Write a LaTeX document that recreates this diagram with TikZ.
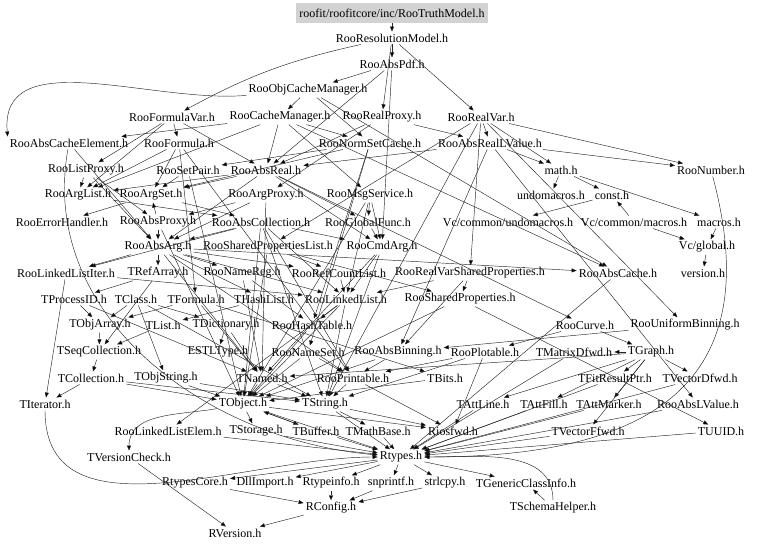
\documentclass[tikz,border=0pt]{standalone}
\usepackage{fontspec}
\setmainfont{Liberation Serif}
\usetikzlibrary{arrows.meta}

\begin{document}
\begin{tikzpicture}[x=1pt, y=-1pt,
    hdr/.style={font=\fontsize{12}{14}\selectfont, inner sep=2pt},
    top/.style={hdr, fill=gray!35, inner xsep=3pt, minimum height=20pt},
    dep/.style={draw=black!85, line width=0.45pt, -{Triangle[length=5pt,width=4pt]}}]
    \useasboundingbox (0,0) rectangle (768,548);
    % FILE
    \node[top] (truth) at (392,13) {roofit/roofitcore/inc/RooTruthModel.h};
    \node[hdr] (resmod) at (392,38) {RooResolutionModel.h};
    \node[hdr] (abspdf) at (392,64) {RooAbsPdf.h};
    \node[hdr] (objcache) at (308,90) {RooObjCacheManager.h};
    \node[hdr] (formvar) at (172,117) {RooFormulaVar.h};
    \node[hdr] (cachemgr) at (280,117) {RooCacheManager.h};
    \node[hdr] (realproxy) at (382,117) {RooRealProxy.h};
    \node[hdr] (realvar) at (481,117) {RooRealVar.h};
    \node[hdr] (cacheelem) at (69,143) {RooAbsCacheElement.h};
    \node[hdr] (formula) at (179,143) {RooFormula.h};
    \node[hdr] (normset) at (370,143) {RooNormSetCache.h};
    \node[hdr] (reallval) at (490,143) {RooAbsRealLValue.h};
    \node[hdr] (listproxy) at (86,170) {RooListProxy.h};
    \node[hdr] (setpair) at (188,170) {RooSetPair.h};
    \node[hdr] (absreal) at (266,170) {RooAbsReal.h};
    \node[hdr] (mathh) at (561,170) {math.h};
    \node[hdr] (number) at (711,170) {RooNumber.h};
    \node[hdr] (arglist) at (78,195) {RooArgList.h};
    \node[hdr] (argset) at (151,195) {RooArgSet.h};
    \node[hdr] (argproxy) at (266,195) {RooArgProxy.h};
    \node[hdr] (msgsvc) at (370,195) {RooMsgService.h};
    \node[hdr] (undom) at (551,195) {undomacros.h};
    \node[hdr] (consth) at (612,195) {const.h};
    \node[hdr] (errhand) at (62,222) {RooErrorHandler.h};
    \node[hdr] (absproxy) at (158,222) {RooAbsProxy.h};
    \node[hdr] (abscoll) at (261,222) {RooAbsCollection.h};
    \node[hdr] (globfunc) at (368,222) {RooGlobalFunc.h};
    \node[hdr] (vcundom) at (508,222) {Vc/common/undomacros.h};
    \node[hdr] (vcmacros) at (634,222) {Vc/common/macros.h};
    \node[hdr] (macrosh) at (719,222) {macros.h};
    \node[hdr] (absarg) at (158,247) {RooAbsArg.h};
    \node[hdr] (shplist) at (268,247) {RooSharedPropertiesList.h};
    \node[hdr] (cmdarg) at (382,247) {RooCmdArg.h};
    \node[hdr] (vcglobal) at (707,247) {Vc/global.h};
    \node[hdr] (llistiter) at (66,273) {RooLinkedListIter.h};
    \node[hdr] (trefarr) at (158,273) {TRefArray.h};
    \node[hdr] (namereg) at (242,273) {RooNameReg.h};
    \node[hdr] (refcount) at (339,273) {RooRefCountList.h};
    \node[hdr] (rvshprop) at (470,273) {RooRealVarSharedProperties.h};
    \node[hdr] (abscache) at (618,273) {RooAbsCache.h};
    \node[hdr] (versionh) at (703,273) {version.h};
    \node[hdr] (tprocid) at (74,299) {TProcessID.h};
    \node[hdr] (tclass) at (136,299) {TClass.h};
    \node[hdr] (tformula) at (196,299) {TFormula.h};
    \node[hdr] (thashlist) at (264,299) {THashList.h};
    \node[hdr] (linklist) at (346,299) {RooLinkedList.h};
    \node[hdr] (shprop) at (460,299) {RooSharedProperties.h};
    \node[hdr] (tobjarr) at (100,325) {TObjArray.h};
    \node[hdr] (tlist) at (163,325) {TList.h};
    \node[hdr] (tdict) at (226,325) {TDictionary.h};
    \node[hdr] (hashtab) at (312,325) {RooHashTable.h};
    \node[hdr] (curve) at (585,325) {RooCurve.h};
    \node[hdr] (unibin) at (685,325) {RooUniformBinning.h};
    \node[hdr] (tseqcoll) at (99,352) {TSeqCollection.h};
    \node[hdr] (estl) at (218,352) {ESTLType.h};
    \node[hdr] (nameset) at (308,352) {RooNameSet.h};
    \node[hdr] (absbin) at (398,352) {RooAbsBinning.h};
    \node[hdr] (plotable) at (485,352) {RooPlotable.h};
    \node[hdr] (tmatd) at (574,352) {TMatrixDfwd.h};
    \node[hdr] (tgraph) at (651,352) {TGraph.h};
    \node[hdr] (tcoll) at (91,378) {TCollection.h};
    \node[hdr] (tobjstr) at (166,378) {TObjString.h};
    \node[hdr] (tnamed) at (262,378) {TNamed.h};
    \node[hdr] (printable) at (353,378) {RooPrintable.h};
    \node[hdr] (tbits) at (445,378) {TBits.h};
    \node[hdr] (fitres) at (615,378) {TFitResultPtr.h};
    \node[hdr] (tvecd) at (700,378) {TVectorDfwd.h};
    \node[hdr] (titer) at (45,404) {TIterator.h};
    \node[hdr] (tobject) at (243,404) {TObject.h};
    \node[hdr] (tstring) at (325,404) {TString.h};
    \node[hdr] (tattline) at (483,404) {TAttLine.h};
    \node[hdr] (tattfill) at (544,404) {TAttFill.h};
    \node[hdr] (tattmark) at (609,404) {TAttMarker.h};
    \node[hdr] (abslval) at (698,404) {RooAbsLValue.h};
    \node[hdr] (llelem) at (168,431) {RooLinkedListElem.h};
    \node[hdr] (tstorage) at (256,431) {TStorage.h};
    \node[hdr] (tbuffer) at (316,431) {TBuffer.h};
    \node[hdr] (tmathbase) at (378,431) {TMathBase.h};
    \node[hdr] (riosfwd) at (453,431) {Riosfwd.h};
    \node[hdr] (tvecf) at (588,431) {TVectorFfwd.h};
    \node[hdr] (tuuid) at (721,431) {TUUID.h};
    \node[hdr] (tvcheck) at (129,457) {TVersionCheck.h};
    \node[hdr] (rtypes) at (401,457) {Rtypes.h};
    \node[hdr] (rtypescore) at (195,483) {RtypesCore.h};
    \node[hdr] (dllimport) at (265,483) {DllImport.h};
    \node[hdr] (rtypeinfo) at (331,483) {Rtypeinfo.h};
    \node[hdr] (snprintf) at (391,483) {snprintf.h};
    \node[hdr] (strlcpy) at (445,483) {strlcpy.h};
    \node[hdr] (tgenclass) at (526,483) {TGenericClassInfo.h};
    \node[hdr] (rconfig) at (331,508) {RConfig.h};
    \node[hdr] (tschema) at (553,508) {TSchemaHelper.h};
    \node[hdr] (rversion) at (235,533) {RVersion.h};
    % INCLUDE
    \path[dep] (truth) edge (resmod);
    \path[dep] (resmod) edge (abspdf) edge[bend right=8] (formvar) edge (realproxy) edge (realvar);
    \path[dep] (abspdf) edge (objcache) edge (absreal) edge (cmdarg);
    \path[dep] (objcache) edge[out=185,in=95] (cacheelem.north west) edge (cachemgr) edge (normset) edge (abscache);
    \path[dep] (cachemgr) edge (normset) edge (msgsvc) edge (absreal) edge (arglist) edge (abscache) edge (cacheelem);
    \path[dep] (formvar) edge (formula) edge (absreal) edge (listproxy) edge (arglist);
    \path[dep] (formula) edge (arglist) edge (argset) edge (tformula) edge (printable);
    \path[dep] (realproxy) edge (absreal) edge (argproxy) edge (reallval);
    \path[dep] (realvar) edge (reallval) edge (mathh) edge (number) edge (unibin) edge (shplist) edge (rvshprop) edge (tstring);
    \path[dep] (reallval) edge (mathh) edge (absreal) edge (number) edge (abslval) edge (absbin);
    \path[dep] (cacheelem) edge (absarg) edge[out=-100,in=175] (rtypes);
    \path[dep] (listproxy) edge (arglist) edge (absproxy) edge (absarg);
    \path[dep] (setpair) edge (argset) edge (tobject);
    \path[dep] (absreal) edge (absarg) edge (cmdarg) edge (curve) edge (argset) edge (arglist) edge (globfunc);
    \path[dep] (normset) edge (setpair) edge (nameset) edge (hashtab) edge (argset);
    \path[dep] (mathh) edge (undom) edge (consth) edge (macrosh);
    \path[dep] (number) edge[out=-75,in=0,looseness=1.4] (rtypes);
    \path[dep] (arglist) edge (abscoll);
    \path[dep] (argset) edge (abscoll) edge (errhand);
    \path[dep] (argproxy) edge (absproxy) edge (absarg) edge (tnamed);
    \path[dep] (msgsvc) edge (globfunc) edge (cmdarg) edge (tobject) edge (linklist);
    \path[dep] (consth) edge (vcundom);
    \path[dep] (vcmacros) edge (consth) edge (vcglobal);
    \path[dep] (macrosh) edge (vcglobal);
    \path[dep] (vcglobal) edge (versionh);
    \path[dep] (absproxy) edge (absarg) edge (argset) edge (tobject);
    \path[dep] (abscoll) edge (absarg) edge (tobject) edge (tstring) edge (printable) edge (linklist) edge (cmdarg) edge (llistiter);
    \path[dep] (globfunc) edge (cmdarg);
    \path[dep] (absarg) edge (tnamed) edge (thashlist) edge (trefarr) edge (printable) edge (refcount) edge (abscache) edge (llistiter) edge (namereg) edge (linklist);
    \path[dep] (shplist) edge (tobject) edge (refcount) edge (shprop);
    \path[dep] (cmdarg) edge (tnamed) edge (tstring) edge (linklist);
    \path[dep] (llistiter) edge (titer) edge (linklist);
    \path[dep] (trefarr) edge (tseqcoll) edge (tprocid);
    \path[dep] (namereg) edge (tnamed) edge (hashtab);
    \path[dep] (refcount) edge (linklist);
    \path[dep] (rvshprop) edge (shprop) edge (absbin) edge (linklist);
    \path[dep] (abscache) edge (rtypes);
    \path[dep] (tprocid) edge (tnamed) edge (tobjarr);
    \path[dep] (tclass) edge (tdict) edge (tstring) edge (tobjarr) edge (tobjstr);
    \path[dep] (tformula) edge (tnamed) edge (tbits) edge (tobjarr);
    \path[dep] (thashlist) edge (tlist);
    \path[dep] (linklist) edge (tobject) edge (llelem) edge (hashtab) edge (tstring);
    \path[dep] (shprop) edge (tobject) edge (tuuid);
    \path[dep] (tobjarr) edge (tseqcoll);
    \path[dep] (tlist) edge (tseqcoll);
    \path[dep] (tdict) edge (tnamed) edge (estl);
    \path[dep] (hashtab) edge (tobject);
    \path[dep] (curve) edge (tgraph) edge (plotable);
    \path[dep] (unibin) edge (absbin);
    \path[dep] (tseqcoll) edge (tcoll);
    \path[dep] (nameset) edge (tobject) edge (printable);
    \path[dep] (absbin) edge (tobject) edge (printable);
    \path[dep] (plotable) edge (tstring) edge (printable) edge (riosfwd);
    \path[dep] (tmatd) edge (rtypes);
    \path[dep] (tgraph) edge (tnamed) edge (tattline) edge (tattfill) edge (tattmark) edge (tvecf) edge (tvecd) edge (tmatd) edge (fitres);
    \path[dep] (tcoll) edge (tobject) edge (titer) edge (tstring);
    \path[dep] (tobjstr) edge (tobject) edge (tstring);
    \path[dep] (tnamed) edge (tobject) edge (tstring);
    \path[dep] (printable) edge (riosfwd) edge (tstring);
    \path[dep] (tbits) edge (tobject);
    \path[dep] (fitres) edge (rtypes);
    \path[dep] (tvecd) edge (rtypes);
    \path[dep] (titer) edge[out=-90,in=180] (rtypes);
    \path[dep] (tobject) edge (tstorage) edge (tbuffer) edge[out=190,in=90] (tvcheck) edge (riosfwd) edge (rtypes);
    \path[dep] (tstring) edge (rtypes) edge (tmathbase) edge (riosfwd);
    \path[dep] (tattline) edge (rtypes);
    \path[dep] (tattfill) edge (rtypes);
    \path[dep] (tattmark) edge (rtypes);
    \path[dep] (abslval) edge (rtypes);
    \path[dep] (llelem) edge (rtypes);
    \path[dep] (tstorage) edge (rtypes);
    \path[dep] (tbuffer) edge (tobject) edge (rtypes);
    \path[dep] (tmathbase) edge (rtypes);
    \path[dep] (tvecf) edge (rtypes);
    \path[dep] (tuuid) edge (rtypes);
    \path[dep] (tvcheck) edge (rversion);
    \path[dep] (rtypes) edge (rtypescore) edge (dllimport) edge (rtypeinfo) edge (snprintf) edge (strlcpy) edge (tgenclass);
    \path[dep] (rtypescore) edge (rconfig);
    \path[dep] (rtypeinfo) edge (rconfig);
    \path[dep] (snprintf) edge (rconfig);
    \path[dep] (strlcpy) edge (rconfig);
    \path[dep] (rconfig) edge (rversion);
    \path[dep] (tschema) edge (tgenclass) edge[out=90,in=0] (rtypes);
\end{tikzpicture}
\end{document}
